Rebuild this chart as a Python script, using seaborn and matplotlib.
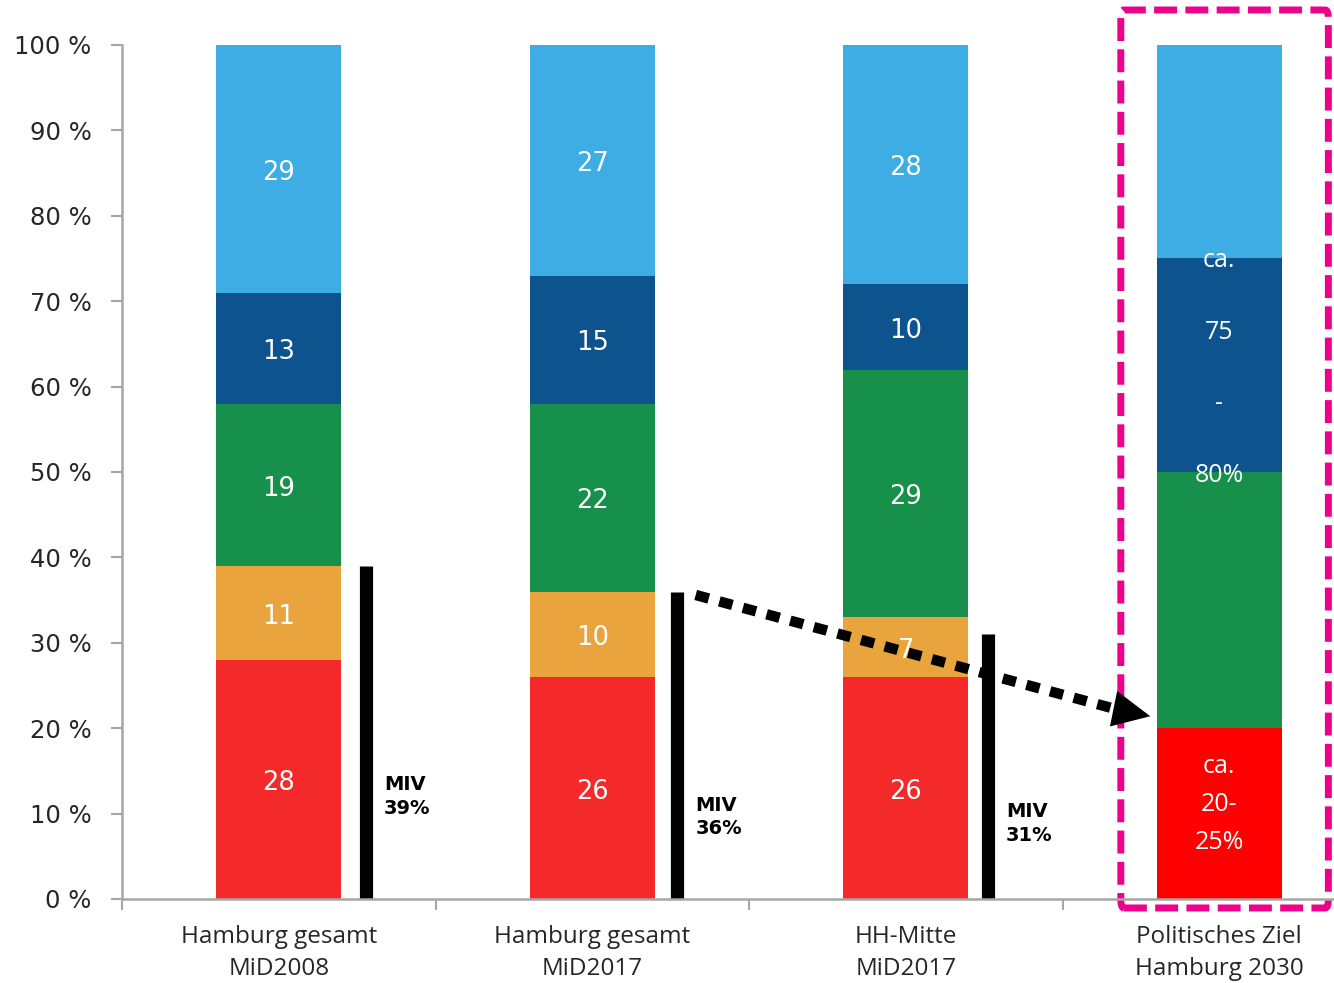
import matplotlib
matplotlib.use("Agg")
import matplotlib.pyplot as plt
import seaborn as sns
import numpy as np
from matplotlib.patches import FancyBboxPatch

sns.set_theme(style="white")
plt.rcParams['font.family'] = ['DejaVu Sans']

categories = ["Hamburg gesamt\nMiD2008", "Hamburg gesamt\nMiD2017", "HH-Mitte\nMiD2017", "Politisches Ziel\nHamburg 2030"]
red_vals = [28, 26, 26, 20]
orange_vals = [11, 10, 7, 0]
green_vals = [19, 22, 29, 30]
darkblue_vals = [13, 15, 10, 25]
lightblue_vals = [29, 27, 28, 25]
miv_vals = [39, 36, 31]
miv_labels = ["MIV\n39%", "MIV\n36%", "MIV\n31%"]
target_red_label = "ca.\n20-\n25%"
target_blue_label = "ca.\n75\n-\n80%"

c_red = "#F42A2A"
c_red_target = "#FF0000"
c_orange = "#E9A43E"
c_green = "#17904C"
c_dark = "#0D548F"
c_light = "#3DADE3"
c_pink = "#EC008C"

fig = plt.figure(figsize=(13.34, 9.83), dpi=100)
ax = fig.add_axes([122/1334, 84/983, 1254/1334, 854/983])

layers = [red_vals, orange_vals, green_vals, darkblue_vals, lightblue_vals]
colors = [c_red, c_orange, c_green, c_dark, c_light]
bottom = np.zeros(len(categories))
for i, (vals, col) in enumerate(zip(layers, colors)):
    if i == 0:
        sns.barplot(x=categories, y=vals, hue=categories,
                    palette=[c_red, c_red, c_red, c_red_target], legend=False,
                    width=0.4, bottom=bottom, ax=ax, linewidth=0, saturation=1)
    else:
        sns.barplot(x=categories, y=vals, color=col, width=0.4, bottom=bottom,
                    ax=ax, linewidth=0, saturation=1)
    for j, v in enumerate(vals):
        if j < 3 and v > 0:
            ax.text(j, bottom[j] + v / 2 - 0.45, str(v), ha="center", va="center",
                    color="white", fontsize=18.5)
    bottom = bottom + np.array(vals)

# target bar labels
ax.text(3, red_vals[3] / 2 + 1.1, target_red_label, ha="center", va="center",
        color="white", fontsize=18, linespacing=1.68, family="Open Sans")
ax.text(3, 62.2, target_blue_label, ha="center", va="center",
        color="white", fontsize=18, linespacing=3.45, family="Open Sans")

# MIV lines
offs = [0.278, 0.271, 0.262]
text_y = [12, 9.6, 8.8]
for j, (m, lab) in enumerate(zip(miv_vals, miv_labels)):
    ax.vlines(j + offs[j], 0, m, color="black", linewidth=9.5)
    ax.text(j + offs[j] + 0.058, text_y[j], lab, ha="left", va="center",
            fontsize=14, fontweight="bold", color="black", linespacing=1.32)

# dotted arrow
start = (1.33, 35.6)
base = (2.673, 22.2)
tip = (2.78, 21.4)
ax.plot([start[0], base[0]], [start[1], base[1]], color="black", linewidth=7.5,
        linestyle=(0, (1.3, 1.05)), dash_capstyle="butt", clip_on=False)
ax.annotate("", xy=tip, xytext=base,
            arrowprops=dict(arrowstyle="-|>,head_length=1.35,head_width=0.65",
                            mutation_scale=20, color="black", lw=0,
                            shrinkA=0, shrinkB=0), annotation_clip=False)

# pink dashed box
box = FancyBboxPatch((2.686, -1.05), 0.662, 105.15,
                     boxstyle="round,pad=0,rounding_size=0.01",
                     fill=False, edgecolor=c_pink, linewidth=5,
                     linestyle=(0, (3.3, 1.2)), clip_on=False,
                     mutation_aspect=100)
ax.add_patch(box)

ax.set_xlim(-0.5, 3.5)
ax.set_ylim(0, 100)
ax.set_yticks(np.arange(0, 101, 10))
ax.set_yticklabels([f"{v} %" for v in range(0, 101, 10)], fontsize=17.5)
ax.set_xticks(range(4))
ax.set_xticklabels(categories, fontsize=17.5, family="Open Sans", linespacing=1.45)
ax.set_xticks([-0.5, 0.5, 1.5, 2.5], minor=True)
ax.tick_params(axis="x", which="major", length=0, pad=19)
ax.tick_params(axis="x", which="minor", length=8, width=1.5, color="#A6A6A6", bottom=True)
ax.tick_params(axis="y", length=8, width=1.5, color="#A6A6A6", pad=14, left=True)
for s in ["top", "right"]:
    ax.spines[s].set_visible(False)
for s in ["left", "bottom"]:
    ax.spines[s].set_color("#A6A6A6")
    ax.spines[s].set_linewidth(1.8)
ax.set_xlabel("")
ax.set_ylabel("")

fig.savefig("out.png", dpi=100)
